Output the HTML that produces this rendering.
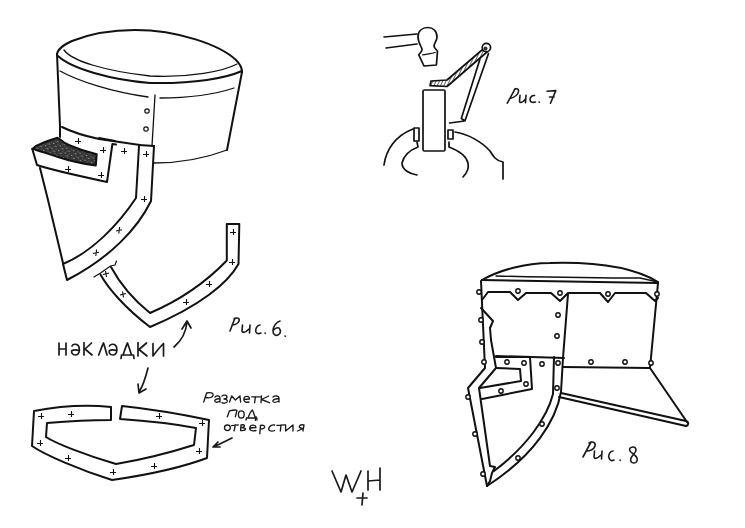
<!DOCTYPE html>
<html><head><meta charset="utf-8">
<style>
html,body{margin:0;padding:0;background:#fff;}
body{width:745px;height:528px;overflow:hidden;font-family:"Liberation Sans",sans-serif;}
svg{display:block;}
</style></head>
<body>
<svg width="745" height="528" viewBox="0 0 745 528">
<defs><pattern id="hatch" patternUnits="userSpaceOnUse" width="3" height="3" patternTransform="rotate(25)"><rect width="3" height="3" fill="#fff"/><line x1="0" y1="0" x2="0" y2="3" stroke="#222" stroke-width="1.4"/></pattern><pattern id="speck" patternUnits="userSpaceOnUse" width="7" height="5" patternTransform="rotate(20)"><rect width="7" height="5" fill="#333"/><rect x="1" y="1" width="1.2" height="1" fill="#aaa"/><rect x="4" y="3" width="1.4" height="1" fill="#999"/><rect x="5.5" y="0.5" width="1" height="1" fill="#888"/><rect x="2.5" y="3.5" width="1" height="1" fill="#777"/></pattern></defs>
<rect width="745" height="528" fill="#fff"/>
<g fill="none" stroke="#111" stroke-width="2" stroke-linecap="round" stroke-linejoin="round">
<!-- ===== FIG 6 helmet ===== -->
<path d="M57,55 C57,49 63,45 72,41 C92,33 115,30 135,30 C178,30 220,45 236,60 C240,64 242,68 242,72"/>
<path d="M64,50 C72,61 105,71 150,76 C190,78 224,71 237,64" stroke-width="1.3"/>
<path d="M58,56 C72,69 112,80 150,83 C195,84 226,78 242,71"/>
<path d="M57,54 L60,126 L60,137"/>
<path d="M242,72 L227,150"/>
<path d="M60,71 C78,81 112,92 148,97" stroke-width="1.3"/>
<path d="M160,98 C192,98 216,94 234,88" stroke-width="1.3"/>
<path d="M155,95 L152,146" stroke-width="1.3"/>
<circle cx="147" cy="111" r="2.2" stroke-width="1.2"/>
<circle cx="146" cy="129" r="2.2" stroke-width="1.2"/>
<path d="M154,163 C182,163 206,158 227,150" stroke-width="1.3"/>
<path d="M62,127 C70,131 85,136 99,139 L140,145"/>
<path d="M99,138 L115,141" stroke-width="2"/>
<path d="M32.3,149 L35.6,146.2 C42,143 50,140 57.3,137.8 L60.5,139.6 C63,142 66,144 70,145.5 C78,149 87,152 96.7,154.2 L95.8,165.5 C85,164 70,161 58,157 C48,154 40,151 33,149 Z" fill="url(#speck)"/>
<path d="M32.3,149 L37,165 C48,169 70,174 107,182 L112.4,144 L116,144.6"/>
<path d="M40,168 L48,200 L63,263"/>
<path d="M139,145 L154,146"/>
<path d="M139,146 L136,198 C118,225 92,252 63,264 L67,280 C110,258 138,228 151,201 L154,146"/>
<!-- lower bracket -->
<path d="M94,277 L100.6,273 L110.5,266 L115,265 L116.5,261" stroke-width="1.2"/>
<path d="M100.6,274.7 C108,288 125,308 150,327 C200,306 228,283 238.5,264 L239.3,224 L226.8,224 L226.8,260.5 C210,278 185,298 150,313 C130,297 118,280 111,267"/>
<!-- bottom piece -->
<path d="M111,407 C90,405 60,406 34,411 L32,446 C45,455 80,470 112,480 C140,476 175,470 207,458 L209,420 C190,416 160,410 122,406 L120,419 C150,421 175,424 196,428 L194,445 C175,451 140,460 116,464 C85,455 55,443 46,437 L47,423 C70,421 90,420 111,420 Z"/>
<!-- fig 7 --><g stroke-width="1.7">
<path d="M384,37 L417,34 M386,48 L417,44"/>
<path d="M428,27.5 C433,27.5 437,31 437,37 C437,41 434,43 434,46 C434,48 437,50 437.5,51.4 L436.4,65 L424,66 L418.8,54.8 C420,53 422.5,51 422,49 C421,46 418,42 418,37 C418,31 422,27.5 428,27.5 Z"/>
<path d="M422.7,54.8 C427,54 432,53.5 435.2,52.5" stroke-width="1.3"/>
<path d="M482,50 L447,80 L431,81 L430,85.6 L447,86.5 L487,52 Z" fill="url(#hatch)"/>
<circle cx="486.4" cy="47.5" r="4.2" fill="#fff"/><circle cx="485.5" cy="48.5" r="2" fill="#333" stroke="none"/>
<path d="M480,59 L461.3,118.5 L465,120.7 M488.5,53.5 L465,120.7 M449.5,123 L464.6,121"/>
<rect x="423" y="90" width="22" height="61" rx="1.5"/>
<rect x="414" y="128" width="5" height="13"/>
<rect x="448" y="130" width="5" height="9"/>
<path d="M384,165 C386,150 395,136 413,129"/>
<path d="M417,142 L418,147 C410,150 404,155 402,163 C402,170 410,174 417,175"/>
<path d="M449,142 L449,147 C457,150 466,155 468,163 C469,168 467,173 463,177"/>
<path d="M455,132 C468,134 482,142 490,151 C493,156 496,161 503,162 L503,179"/>
</g>
<!-- fig 8 -->
<path d="M482,280 C500,270 525,263 550,263 C585,262 630,265 658,282"/>
<path d="M496,276 C540,277 600,278 640,278 L658,282" stroke-width="1.3"/>
<path d="M482,280 L658,283"/>
<path d="M481,281 L485,368 L468,388 L487,486"/>
<path d="M481,308 L493,321 L490,328 L491,340 L496,368 L479,388 L490,466 L495,467 L492,473 L490,481 L487,486"/>
<path d="M482,300 L488,292 L510,292 L518,300 L526,293 L551,293 L560,301 L568,293 L600,293 L608,302 L615,293 L646,293 L655,301 L658,298"/>
<path d="M568,294 L563,358"/>
<path d="M658,283 L650,368"/>
<path d="M496,356 L564,358 M563,367 L650,368"/>
<path d="M496,357 L530,357 L532,389 L482,399 M496,368 L520,369 L521,381 L480,388"/>
<path d="M554,357 L553,394 C547,418 526,447 494,471"/>
<path d="M563,358 L561,392 C556,420 535,455 487,486"/>
<path d="M650,368 L687,422 M561,393 L686,421 M559,397 L686,426"/>
<path d="M686,421 C689,422 689,425 686,426"/>
</g>
<!-- rivets fig 8 -->
<g fill="#fff" stroke="#111" stroke-width="1.4">
<circle cx="518" cy="291" r="2.2"/><circle cx="560" cy="293" r="2.2"/><circle cx="608" cy="294" r="2.2"/><circle cx="657" cy="294" r="2.2"/>
<circle cx="479" cy="292" r="2.2"/><circle cx="481" cy="320" r="2.2"/><circle cx="482" cy="342" r="2.2"/><circle cx="484" cy="362" r="2.2"/>
<circle cx="468" cy="397" r="2.2"/><circle cx="475" cy="434" r="2.2"/><circle cx="483" cy="474" r="2.2"/>
<circle cx="558" cy="315" r="2.2"/><circle cx="557" cy="336" r="2.2"/>
<circle cx="591" cy="362" r="2.2"/><circle cx="625" cy="362" r="2.2"/><circle cx="651" cy="363" r="2.2"/>
<circle cx="507" cy="362" r="2.2"/><circle cx="524" cy="363" r="2.2"/><circle cx="526" cy="384" r="2.2"/><circle cx="501" cy="391" r="2.2"/><circle cx="542" cy="364" r="2.2"/>
<circle cx="558" cy="363" r="2.2"/><circle cx="557" cy="388" r="2.2"/><circle cx="542" cy="424" r="2.2"/><circle cx="518" cy="458" r="2.2"/>
</g>
<!-- crosses -->
<g stroke="#111" stroke-width="1.1" fill="none">
<path d="M75,141.5 h6 M78.5,138 v6"/>
<path d="M100,150.5 h6 M103.5,147 v6"/>
<path d="M121,151.5 h6 M124.5,148 v6"/>
<path d="M143,154.5 h6 M146.5,151 v6"/>
<path d="M65,169.5 h6 M68.5,166 v6"/>
<path d="M98,175.5 h6 M101.5,172 v6"/>
<path d="M141,199.5 h6 M144.5,196 v6"/>
<path d="M116,231 l6,-1.2 M119.6,227 l-0.8,6.5"/>
<path d="M93,253.5 l6,-1.2 M96.6,249.5 l-0.8,6.5"/>
<path d="M230,232.5 h6 M233.5,229 v6"/>
<path d="M229,262.5 h6 M232.5,259 v6"/>
<path d="M206,284.5 h6 M209.5,281 v6"/>
<path d="M183,302.5 h6 M186.5,299 v6"/>
<path d="M120,295 l6,-1.5 M122.5,291.5 l1,6"/>
<path d="M103,274.5 l6,-1.5 M105.5,271 l1,6"/>
<path d="M38,416.5 h6 M41.5,413 v6"/>
<path d="M68,414.5 h6 M71.5,411 v6"/>
<path d="M37,443.5 h6 M40.5,440 v6"/>
<path d="M65,458.5 h6 M68.5,455 v6"/>
<path d="M110,472.5 h6 M113.5,469 v6"/>
<path d="M151,466.5 h6 M154.5,463 v6"/>
<path d="M156,416.5 h6 M159.5,413 v6"/>
<path d="M199,423.5 h6 M202.5,420 v6"/>
<path d="M196,451.5 h6 M199.5,448 v6"/>
</g>
<!-- handwriting -->
<g fill="none" stroke="#1a1a1a" stroke-width="1.7" stroke-linecap="round" stroke-linejoin="round">
<!-- накладки -->
<path d="M59,343 L59,355 M66,343 L66,355 M59,349 L66,349"/>
<path d="M72,346 C73,343.5 78,343.5 79,347 C80,351 79,355 75.5,355 C72,355 71,352 72,350.5 C74,349.5 77,350 79.2,350.5"/>
<path d="M84,342.5 L84,355 M91.5,343 L85,349 L92,355"/>
<path d="M98.7,355 C100,352 102,346 103.5,343 C105,347 106,352 107,355"/>
<path d="M109.5,346 C110.5,343.5 115.5,343.5 116.5,347 C117.5,351 116.5,355 113,355 C109.5,355 108.5,352 109.5,350.5 C111.5,349.5 114.5,350 116.7,350.5"/>
<path d="M121,358.5 L121.5,355 L133.5,355 L134,358.5 M123,355 C124.5,351 126,346 127.5,343 C129,347 130.5,352 131.5,355"/>
<path d="M138,342.5 L138,356 M146.5,343 L139,349.5 L147,356"/>
<path d="M153,343.5 L153,356 C156,352 160,347 163.5,343.5 L163.5,356"/>
<!-- arrows -->
<path d="M174,347 C180,342 186,333 187,322 M182,329 L187,321 L191,328"/>
<path d="M148,368 C146,376 143,386 139,392 M138,384 L139,393 L146,389"/>
<path d="M232,438 C226,441 218,445 213,447 M218,442 L213,447 L220,447"/>
<!-- W+H -->
<path d="M332,471 L341,492 L346,475 L352,492 L361,471"/>
<path d="M357,498 L367,498 M363,493 L362,505"/>
<path d="M368,471 L368,490 M380,468 L380,490 M368,481 L380,480"/>
</g>
<g fill="none" stroke="#1a1a1a" stroke-width="1.6" stroke-linecap="round" stroke-linejoin="round">
<!-- Рис.7 -->
<path d="M515.2,88.6 L507.3,103.2 M514.5,89.5 C517,88 519,89 518.5,91.5 C518,95 513.5,97.5 510,98.5"/>
<path d="M520,95.2 L519.5,101.5 C520,103 522.5,103 525.5,99 M526,95.2 L525.5,102.8"/>
<path d="M534.5,95.5 C532,95 530,97.5 530,99.5 C530,102 532,103 535.5,102"/>
<path d="M539,102 L539.3,102.3"/>
<path d="M547,91.2 L555.8,90.6 L550.5,103.2 M549.5,97 L554,97"/>
<!-- Рис.6. -->
<path d="M235,318 L230,331 M234,319 C237,317 240,318 239,321 C238,324 234,325 232,325"/>
<path d="M242.5,325 L242,331 C242.5,333 245,333 249,329 M250,325 L249.5,333"/>
<path d="M260,325 C257,325 255,329 256,332 C257,334 259,334 261,333"/>
<path d="M265,333 L265.3,333.3 M285,336 L285.3,336.3"/>
<path d="M280,321 C276,322 273,327 273,331 C273,335 276,336 278,335 C281,334 281,330 279,328 C277,327 274,329 273,331"/>
<!-- Рис.8 -->
<path d="M591,442 L583,457 M589,443 C592,441 596,442 595,446 C594,450 589,451 587,451"/>
<path d="M594.5,451 L594,457 C594.5,459 597,459 601,455 M602,451 L601.5,459"/>
<path d="M613,451 C610,451 608,455 609,458 C610,461 612,461 614,460"/>
<path d="M620,460 L620.3,460.3"/>
<path d="M633,447 C630,447 629,449 630,451 C631,453 636,455 637,458 C638,461 636,463 634,463 C631,463 630,461 631,458 C632,455 636,453 636,450 C636,448 635,447 633,447"/>
</g>
<g fill="none" stroke="#1a1a1a" stroke-width="1.35" stroke-linecap="round" stroke-linejoin="round">
<!-- Разметка -->
<path d="M206.6,393 L203.7,402 M206.6,393 C210,392 214,393 213,395.5 C212,398 208,398 206,397.5"/>
<path d="M215,397 C217,395 220,396 220,398 L220,402 M220,399 C217,398 214,400 215,401.5 C216,403 219,402 220,401"/>
<path d="M222,396 C224,394.5 227,395 227,397 C227,398.5 225,399 224,399 C226,399 228,400 227,402 C226,403.5 223,403.5 222,402.5"/>
<path d="M229.5,402 L231.7,396 L235.4,400 L240,396 L240.6,402"/>
<path d="M244,399.5 L249.5,399 C249.5,396 245,395.5 244,398 C243,401 245,403 249,402"/>
<path d="M251.7,396.8 L260.5,396.8 M255.4,396.8 L254.6,402.7"/>
<path d="M261.5,396 L261,402.7 M268.7,396 L261.5,399.5 L269.4,402.7"/>
<path d="M273,397 C275,395 279,396 279,398 L279,402 M279,399 C276,398 272,400 273,401.5 C274,403 277,402 279,401"/>
<!-- под, -->
<path d="M227.3,416.7 L229.5,410.8 C233,410 236,410 236.9,410.3 L235.4,416.7"/>
<ellipse cx="241.3" cy="414.4" rx="2.9" ry="3.6"/>
<path d="M246.5,418 L256.8,418 M246.5,418 L246,420 M256.8,418 L257,420 M248,418 C249.5,414 251,411 252.4,410 C253.5,412 254.5,416 255.5,418"/>
<path d="M256,416.7 L255.4,420.4"/>
<!-- отверстия -->
<ellipse cx="227.4" cy="427.8" rx="2.9" ry="2.8"/>
<path d="M231.7,425.6 L238.4,424.9 M235.4,425 L234,430.8"/>
<path d="M241,425 L240.6,430.5 M241,425 C245,424 246,427 241.5,427.5 C247,427.5 247,431 240.6,430.5"/>
<path d="M250,428 L256,427.5 C256,425 251,424 250,427 C249,430 251,431.5 256,430.5"/>
<path d="M260.5,425.5 L259.8,433.7 M260.5,425.5 C265,424 267,429 260.5,429"/>
<path d="M274.6,425 C270,424 268,429 269,430 C270,431.5 273,431.5 274.6,430.5"/>
<path d="M276.8,425.3 L284.9,424.9 M281,425 L280.3,431"/>
<path d="M285.6,425 L285.6,431 L293,425 L293,431"/>
<path d="M304,425 L303,431 M304,425 C299,424 297,428 303,428.5 L297.4,431"/>
</g>
</svg>
</body></html>
